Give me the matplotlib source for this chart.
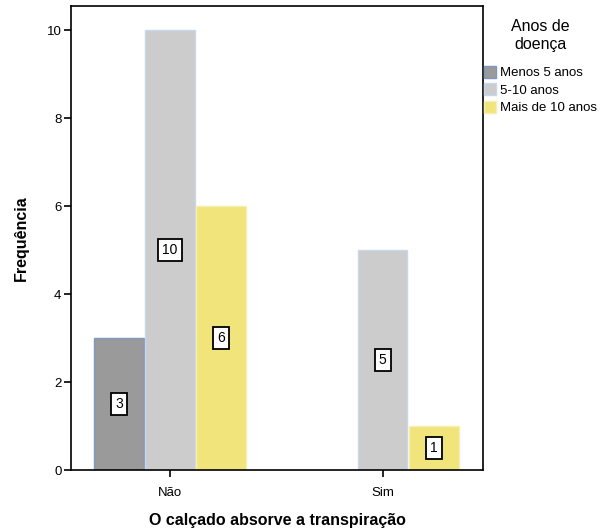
import numpy as np
import matplotlib
matplotlib.use("Agg")
import matplotlib.pyplot as plt
from matplotlib.patches import Patch

plt.rcParams["font.family"] = ["Liberation Sans", "DejaVu Sans"]

categorias = ["Não", "Sim"]
grupos = ["Menos 5 anos", "5-10 anos", "Mais de 10 anos"]
menos_5 = [3, 0]
de_5_a_10 = [10, 5]
mais_10 = [6, 1]
cores = ["#9a9a9a", "#cccccc", "#f0e47a"]
bordas = ["#7f97c0", "#c6d8ec", "#f6efb0"]

fig = plt.figure(figsize=(6.08, 5.32), dpi=100)
ax = fig.add_axes([0.117, 0.1165, 0.677, 0.872])

x = np.arange(len(categorias))
largura = 0.24
series = [menos_5, de_5_a_10, mais_10]
for i, valores in enumerate(series):
    pos = x + (i - 1) * largura
    for xp, v in zip(pos, valores):
        if v == 0:
            continue
        ax.bar(xp, v, width=largura - 0.008, color=cores[i],
               edgecolor=bordas[i], linewidth=1.0, zorder=2)
        ax.text(xp, v / 2, str(v), ha="center", va="center", fontsize=10,
                zorder=3,
                bbox=dict(boxstyle="square,pad=0.3", fc="white",
                          ec="black", lw=1.3))

ax.set_xlim(-0.465, 1.47)
ax.set_ylim(0, 10.55)
ax.set_yticks([0, 2, 4, 6, 8, 10])
ax.set_xticks(x)
ax.set_xticklabels(categorias)
ax.tick_params(axis="both", direction="out", length=5, width=1.2,
               labelsize=9.5, pad=2)
ax.tick_params(axis="x", pad=7)
for s in ax.spines.values():
    s.set_linewidth(1.2)

ax.set_ylabel("Frequência", fontsize=11.5, fontweight="bold", labelpad=13)
ax.set_xlabel("O calçado absorve a transpiração", fontsize=11.5,
              fontweight="bold", labelpad=10)

handles = [Patch(facecolor=c, edgecolor=e, lw=1) for c, e in zip(cores, bordas)]
leg = fig.legend(handles, grupos, loc="upper left",
                 bbox_to_anchor=(0.787, 0.975), frameon=False, fontsize=9.5,
                 title="Anos de\ndoença", title_fontsize=11.5,
                 handlelength=0.9, handleheight=1.0, handletextpad=0.3,
                 labelspacing=0.3, borderaxespad=0)
leg.get_title().set_multialignment("center")
leg.get_title().set_linespacing(1.3)
leg._legend_box.sep = 10

fig.savefig("out.png", dpi=100)
